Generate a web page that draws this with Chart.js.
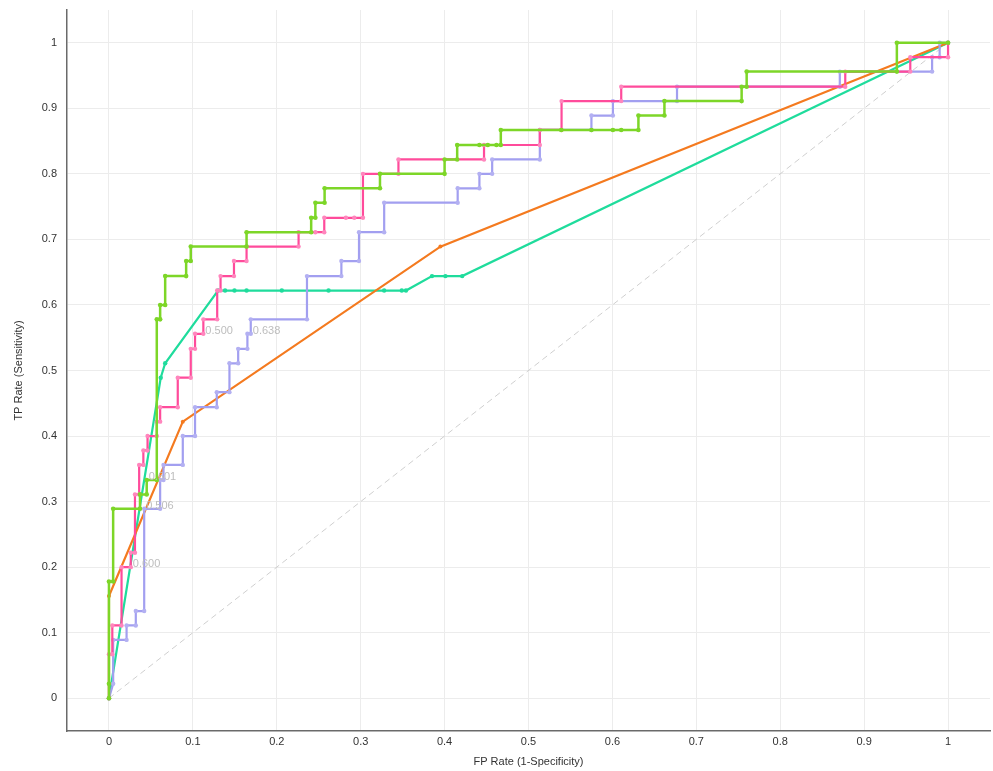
<!DOCTYPE html>
<html>
<head>
<meta charset="utf-8">
<script src="https://cdn.jsdelivr.net/npm/chart.js@4.4.1/dist/chart.umd.min.js"></script>
<style>
html,body{margin:0;padding:0;background:#fff;}
#wrap{width:993px;height:771px;position:relative;}
</style>
</head>
<body>
<div id="wrap"><canvas id="c" width="993" height="771"></canvas></div>
<script>
// ---- data ----
const tickVals = [0,0.1,0.2,0.3,0.4,0.5,0.6,0.7,0.8,0.9,1];
const tickLabels = ['0','0.1','0.2','0.3','0.4','0.5','0.6','0.7','0.8','0.9','1'];

const greenFpr = [0,0,0,0.005,0.005,0.037,0.037,0.045,0.045,0.057,0.057,0.061,0.061,0.067,0.067,0.092,0.092,0.0975,0.0975,0.164,0.164,0.241,0.241,0.246,0.246,0.257,0.257,0.323,0.323,0.4,0.4,0.415,0.415,0.4415,0.4515,0.4618,0.467,0.467,0.539,0.575,0.6006,0.6105,0.631,0.631,0.662,0.662,0.754,0.754,0.76,0.76,0.939,0.939,1];
const greenTpr = [0,0.022,0.178,0.178,0.289,0.289,0.311,0.311,0.333,0.333,0.578,0.578,0.6,0.6,0.644,0.644,0.667,0.667,0.689,0.689,0.711,0.711,0.733,0.733,0.756,0.756,0.778,0.778,0.8,0.8,0.822,0.822,0.844,0.844,0.844,0.844,0.844,0.867,0.867,0.867,0.867,0.867,0.867,0.889,0.889,0.911,0.911,0.933,0.933,0.956,0.956,1,1];

const pinkFpr = [0,0,0.004,0.004,0.015,0.015,0.026,0.026,0.031,0.031,0.036,0.036,0.041,0.041,0.046,0.046,0.057,0.057,0.061,0.061,0.082,0.082,0.0975,0.0975,0.1026,0.1026,0.1125,0.1125,0.129,0.129,0.133,0.133,0.149,0.149,0.164,0.164,0.226,0.226,0.246,0.2566,0.2566,0.2824,0.2924,0.3027,0.3027,0.345,0.345,0.447,0.447,0.5135,0.5135,0.5394,0.5394,0.6105,0.6105,0.8775,0.8775,0.955,0.955,1,1];
const pinkTpr = [0,0.067,0.067,0.111,0.111,0.2,0.2,0.222,0.222,0.311,0.311,0.356,0.356,0.378,0.378,0.4,0.4,0.422,0.422,0.444,0.444,0.489,0.489,0.533,0.533,0.556,0.556,0.578,0.578,0.622,0.622,0.644,0.644,0.667,0.667,0.689,0.689,0.711,0.711,0.711,0.733,0.733,0.733,0.733,0.8,0.8,0.822,0.822,0.844,0.844,0.867,0.867,0.911,0.911,0.933,0.933,0.956,0.956,0.978,0.978,1];

const lavFpr = [0,0.005,0.005,0.021,0.021,0.032,0.032,0.042,0.042,0.061,0.061,0.065,0.065,0.088,0.088,0.1026,0.1026,0.1285,0.1285,0.1436,0.1436,0.154,0.154,0.165,0.165,0.169,0.169,0.236,0.236,0.277,0.277,0.298,0.298,0.328,0.328,0.4156,0.4156,0.4415,0.4415,0.4567,0.4567,0.5135,0.5135,0.575,0.575,0.6006,0.6006,0.677,0.677,0.871,0.871,0.981,0.981,0.99,0.99,1];
const lavTpr = [0,0.022,0.089,0.089,0.111,0.111,0.133,0.133,0.289,0.289,0.333,0.333,0.356,0.356,0.4,0.4,0.444,0.444,0.467,0.467,0.511,0.511,0.533,0.533,0.556,0.556,0.578,0.578,0.644,0.644,0.667,0.667,0.711,0.711,0.756,0.756,0.778,0.778,0.8,0.8,0.822,0.822,0.867,0.867,0.889,0.889,0.911,0.911,0.933,0.933,0.956,0.956,0.978,0.978,1,1];

const tealFpr = [0,0.0617,0.067,0.13,0.1384,0.1496,0.164,0.206,0.2617,0.328,0.349,0.354,0.385,0.401,0.421,1];
const tealTpr = [0,0.489,0.511,0.622,0.622,0.622,0.622,0.622,0.622,0.622,0.622,0.622,0.644,0.644,0.644,1];

const orangeFpr = [0,0,0.088,0.395,1];
const orangeTpr = [0,0.156,0.422,0.689,1];

const diagFpr = [0,1];
const diagTpr = [0,1];

const thrText = ['0.600','0.506','0.601','0.500','0.638'];
const thrFpr  = [0.026,0.042,0.045,0.1125,0.169];
const thrTpr  = [0.2,0.289,0.333,0.556,0.556];

// ---- build ----
const pts = (xs, ys) => xs.map((x, i) => ({x, y: ys[i]}));
const FONT = 'Liberation Sans, Arial, sans-serif';

function line(label, xs, ys, color, ptColor, width, radius) {
  return {
    label, data: pts(xs, ys), showLine: true, fill: false, tension: 0,
    borderColor: color, borderWidth: width,
    pointRadius: radius, pointHoverRadius: radius,
    pointBackgroundColor: ptColor, pointBorderColor: ptColor, pointBorderWidth: 0
  };
}

const datasets = [
  line('green', greenFpr, greenTpr, '#7dd628', '#7dd628', 2.5, 2.3),
  line('pink', pinkFpr, pinkTpr, '#ff4b9b', '#ff86bd', 2.2, 2.2),
  line('lavender', lavFpr, lavTpr, '#a29ff0', '#b3b0f2', 2.2, 2.2),
  line('orange', orangeFpr, orangeTpr, '#f47a1f', '#f47a1f', 2.2, 2),
  line('teal', tealFpr, tealTpr, '#1fdc9c', '#1fdc9c', 2.2, 2.2),
  Object.assign(line('diag', diagFpr, diagTpr, '#cfcfcf', '#cfcfcf', 1, 0), {borderDash: [6, 4]})
];

const thrPlugin = {
  id: 'thr',
  afterDatasetsDraw(chart) {
    const {ctx, scales: {x, y}} = chart;
    ctx.save();
    ctx.font = '11px ' + FONT;
    ctx.fillStyle = '#bdbdbd';
    ctx.textAlign = 'left';
    ctx.textBaseline = 'middle';
    thrText.forEach((t, i) => {
      ctx.fillText(t, x.getPixelForValue(thrFpr[i]) + 2, y.getPixelForValue(thrTpr[i]) - 3);
    });
    ctx.restore();
  }
};

function axis(title, isX) {
  return {
    type: 'linear', min: -0.05, max: 1.05,
    afterBuildTicks: s => { s.ticks = tickVals.map(v => ({value: v})); },
    afterFit: s => {
      if (isX) s.height = 40; else s.width = 67;
      s.paddingTop = 0; s.paddingBottom = 0; s.paddingLeft = 0; s.paddingRight = 0;
    },
    ticks: {
      callback: (v) => tickLabels[tickVals.indexOf(v)],
      color: '#333', font: {family: FONT, size: 11},
      padding: isX ? 4 : 10, maxRotation: 0, autoSkip: false
    },
    grid: {color: '#ececec', lineWidth: 1, drawTicks: false},
    border: {color: '#6a6a6a', width: 1.5},
    title: {
      display: true, text: title, color: '#333',
      font: {family: FONT, size: 11},
      padding: isX ? {top: 0, bottom: 2} : {top: 12, bottom: 0}
    }
  };
}

new Chart(document.getElementById('c'), {
  type: 'scatter',
  data: {datasets},
  options: {
    responsive: false, animation: false,
    layout: {padding: {top: 10, right: 3, left: 0, bottom: 0}},
    plugins: {legend: {display: false}, tooltip: {enabled: false}},
    scales: {x: axis('FP Rate (1-Specificity)', true), y: axis('TP Rate (Sensitivity)', false)}
  },
  plugins: [thrPlugin]
});
</script>
</body>
</html>
